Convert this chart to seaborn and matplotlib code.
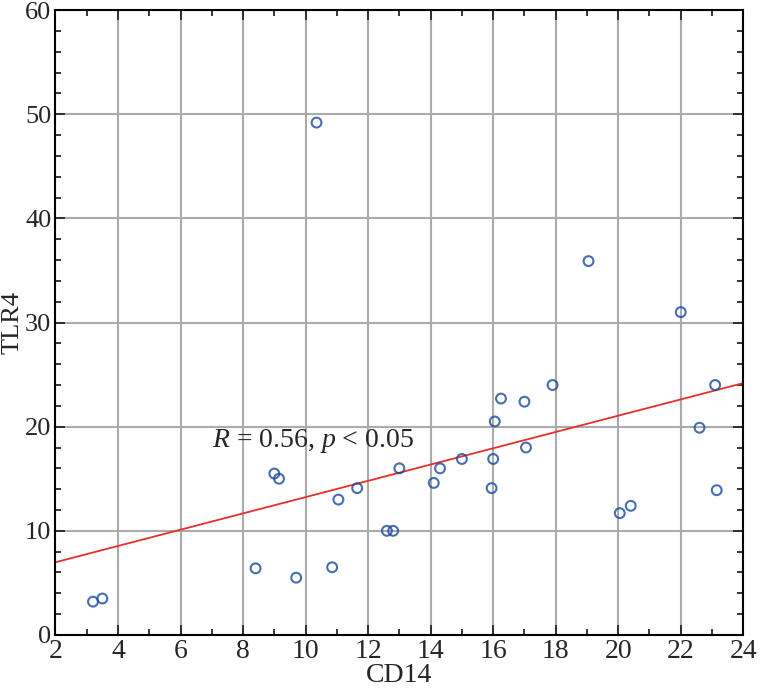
import matplotlib
matplotlib.use('Agg')
import matplotlib.pyplot as plt
from matplotlib.ticker import MultipleLocator
import seaborn as sns
import pandas as pd

# values
cd14 = [3.2, 3.5, 8.4, 9.0, 9.15, 9.7, 10.35, 10.85, 11.05, 11.65,
        12.6, 12.8, 13.0, 14.1, 14.3, 15.0, 15.95, 16.0, 16.05, 16.25,
        17.0, 17.05, 17.9, 19.05, 20.05, 20.4, 22.0, 22.6, 23.1, 23.15]
tlr4 = [3.2, 3.5, 6.4, 15.5, 15.0, 5.5, 49.2, 6.5, 13.0, 14.1,
        10.0, 10.0, 16.0, 14.6, 16.0, 16.9, 14.1, 16.9, 20.5, 22.7,
        22.4, 18.0, 24.0, 35.9, 11.7, 12.4, 31.0, 19.9, 24.0, 13.9]
stat_text = r'$R$ = 0.56, $p$ < 0.05'

df = pd.DataFrame({'CD14': cd14, 'TLR4': tlr4})

sns.set_style('ticks')
plt.rcParams['font.family'] = ['Liberation Serif', 'DejaVu Serif']
plt.rcParams['mathtext.fontset'] = 'custom'
plt.rcParams['mathtext.rm'] = 'Liberation Serif'
plt.rcParams['mathtext.it'] = 'Liberation Serif:italic'

fig = plt.figure(figsize=(7.6, 6.97), dpi=100)
ax = fig.add_axes([0.073, 0.089, 0.905, 0.8965])
ax.set_xlim(2, 24)
ax.set_ylim(0, 60)

sns.regplot(data=df, x='CD14', y='TLR4', ax=ax, ci=None, truncate=False,
            scatter_kws=dict(s=50, facecolors='none', edgecolors='#1a4a9c',
                             linewidths=1.5, zorder=3),
            line_kws=dict(color='#e8302a', lw=1.3, zorder=2))
ax.set_xlim(2, 24)
ax.set_ylim(0, 60)

ax.xaxis.set_major_locator(MultipleLocator(2))
ax.xaxis.set_minor_locator(MultipleLocator(1))
ax.yaxis.set_major_locator(MultipleLocator(10))
ax.yaxis.set_minor_locator(MultipleLocator(2))
ax.grid(True, which='major', color='#ababab', lw=1.5, zorder=0)
ax.set_axisbelow(True)
ax.tick_params(which='both', direction='in', top=True, right=True,
               labelsize=20, width=1.3, pad=3)
ax.tick_params(axis='y', labelsize=19)
ax.tick_params(which='major', length=7)
ax.tick_params(which='minor', length=4)
for s in ax.spines.values():
    s.set_linewidth(1.5)
    s.set_color('black')

ax.set_xlabel('CD14', fontsize=20, labelpad=-1)
ax.set_ylabel('TLR4', fontsize=19, va='top')
ax.yaxis.set_label_coords(-0.079, 0.5)
ax.text(7.0, 18.6, stat_text, fontsize=20, va='center', ha='left')

fig.savefig('out.png', dpi=100)
